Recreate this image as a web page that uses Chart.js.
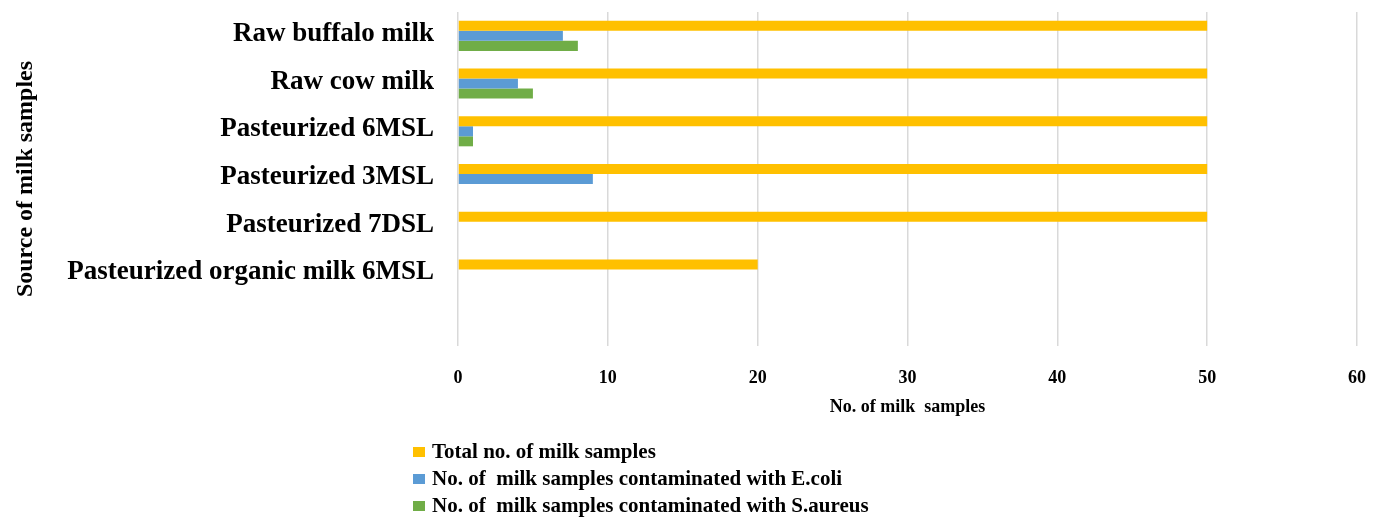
<!DOCTYPE html>
<html>
<head>
<meta charset="utf-8">
<title>Source of milk samples</title>
<script src="https://cdn.jsdelivr.net/npm/chart.js@4.4.1/dist/chart.umd.min.js"></script>
<style>
  html, body { margin: 0; padding: 0; background: #ffffff; }
  #wrap { position: relative; width: 1383px; height: 518px; overflow: hidden; }
  #chart { display: block; }
  #legend {
    position: absolute; left: 413px; top: 438px; margin: 0; padding: 0; list-style: none;
    font: bold 21px "Liberation Serif", "Times New Roman", serif; color: #000;
  }
  #legend li { display: flex; align-items: center; height: 27px; white-space: pre; }
  #legend .sw { display: inline-block; width: 12px; height: 10px; margin-right: 7px; }
</style>
</head>
<body>
<div id="wrap">
  <canvas id="chart" width="1383" height="518"></canvas>
  <ul id="legend"></ul>
</div>
<script>
// Milk sources (top to bottom); the trailing blank keeps an empty band under the last source
const categories = [
  'Raw buffalo milk',
  'Raw cow milk',
  'Pasteurized 6MSL',
  'Pasteurized 3MSL',
  'Pasteurized 7DSL',
  'Pasteurized organic milk 6MSL',
  ''
];

// Number of samples per source
const totalSamples    = [50, 50, 50, 50, 50, 20, null];
const ecoliPositive   = [7, 4, 1, 9, 0, 0, null];
const saureusPositive = [8, 5, 1, 0, 0, 0, null];

// Value axis ticks
const xTicks = [0, 10, 20, 30, 40, 50, 60];

const seriesNames = [
  'Total no. of milk samples',
  'No. of  milk samples contaminated with E.coli',
  'No. of  milk samples contaminated with S.aureus'
];
const seriesColors = ['#FFC000', '#5B9BD5', '#70AD47'];
const seriesValues = [totalSamples, ecoliPositive, saureusPositive];

const serif = '"Liberation Serif", "Times New Roman", serif';

const chart = new Chart(document.getElementById('chart'), {
  type: 'bar',
  data: {
    labels: categories,
    datasets: seriesValues.map((vals, i) => ({
      label: seriesNames[i],
      data: vals,
      backgroundColor: seriesColors[i],
      borderWidth: 0,
      barPercentage: 1,
      categoryPercentage: 0.63
    }))
  },
  options: {
    indexAxis: 'y',
    responsive: false,
    animation: false,
    layout: { padding: { left: 7, top: 12, right: 26, bottom: 92 } },
    plugins: {
      legend: { display: false },
      tooltip: { enabled: false }
    },
    scales: {
      x: {
        type: 'linear',
        min: xTicks[0],
        max: xTicks[xTicks.length - 1],
        afterBuildTicks: (scale) => { scale.ticks = xTicks.map(v => ({ value: v })); },
        afterFit: (scale) => {
          scale.height = 80;
          scale.paddingLeft = 0;
          scale.paddingRight = 0;
        },
        grid: { color: '#d9d9d9', lineWidth: 1.5, drawTicks: false },
        border: { display: false },
        ticks: {
          color: '#000',
          padding: 22,
          font: { family: serif, size: 18, weight: 'bold' }
        },
        title: {
          display: true,
          text: 'No. of milk  samples',
          color: '#000',
          font: { family: serif, size: 18, weight: 'bold' },
          padding: { top: 0, bottom: 8 }
        }
      },
      y: {
        afterFit: (scale) => {
          scale.width = 451;
          scale.paddingTop = 0;
          scale.paddingBottom = 0;
        },
        grid: { display: false, drawTicks: false },
        border: { display: false },
        ticks: {
          color: '#000',
          padding: 24,
          labelOffset: -2,
          font: { family: serif, size: 27, weight: 'bold' }
        },
        title: {
          display: true,
          text: 'Source of milk samples',
          color: '#000',
          font: { family: serif, size: 24, weight: 'bold' },
          padding: { top: 4, bottom: 0 }
        }
      }
    }
  }
});

// Legend list built from the chart's own legend items
const legendEl = document.getElementById('legend');
Chart.defaults.plugins.legend.labels.generateLabels(chart).forEach(item => {
  const li = document.createElement('li');
  const sw = document.createElement('span');
  sw.className = 'sw';
  sw.style.background = item.fillStyle;
  li.appendChild(sw);
  li.appendChild(document.createTextNode(item.text));
  legendEl.appendChild(li);
});
</script>
</body>
</html>
